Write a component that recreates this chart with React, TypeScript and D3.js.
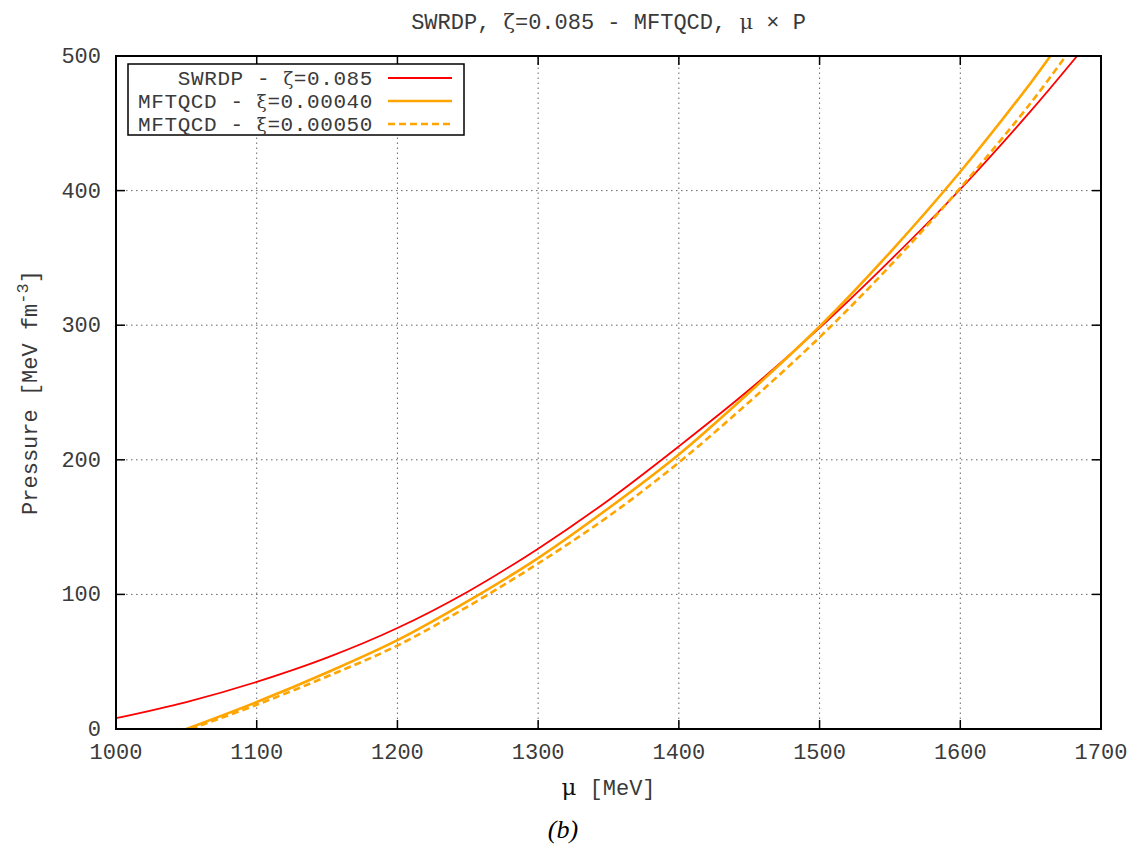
import React from "react";
import * as d3 from "d3";

// SWRDP, zeta = 0.085
const swrdpMu = [1000, 1050, 1100, 1150, 1200, 1250, 1300, 1350, 1400, 1450, 1500, 1550, 1600, 1650, 1683];
const swrdpP = [8, 20, 35, 53, 75, 102, 134, 170, 210, 252, 298, 348, 401, 459, 500];

// MFTQCD, xi = 0.00040
const xi40Mu = [1050, 1100, 1150, 1200, 1250, 1300, 1350, 1400, 1450, 1500, 1550, 1600, 1650, 1664];
const xi40P = [0, 20, 42, 66, 95, 127, 164, 204, 250, 299, 354, 414, 480, 500];

// MFTQCD, xi = 0.00050
const xi50Mu = [1053, 1100, 1150, 1200, 1250, 1300, 1350, 1400, 1450, 1500, 1550, 1600, 1650, 1675];
const xi50P = [0, 18, 39, 62, 91, 123, 158, 198, 243, 291, 344, 402, 465, 500];

const xTicks = [1000, 1100, 1200, 1300, 1400, 1500, 1600, 1700];
const yTicks = [0, 100, 200, 300, 400, 500];

const W = 1136;
const H = 845;
const margin = { left: 116, right: 35, top: 56, bottom: 116 };
const mono = "'Liberation Mono', 'Courier New', monospace";
const serif = "'DejaVu Serif', 'Liberation Serif', serif";
const textCol = "#3a3a3a";

export default function App() {
  const x = d3.scaleLinear().domain([1000, 1700]).range([margin.left, W - margin.right]);
  const y = d3.scaleLinear().domain([0, 500]).range([H - margin.bottom, margin.top]);

  const line = d3
    .line<[number, number]>()
    .x((d) => x(d[0]))
    .y((d) => y(d[1]))
    .curve(d3.curveCatmullRom.alpha(0.5));

  const series = [
    { label: "SWRDP - ", sym: "ζ", val: "=0.085", mu: swrdpMu, p: swrdpP, color: "#ff0000", width: 1.8, dash: "" },
    { label: "MFTQCD - ", sym: "ξ", val: "=0.00040", mu: xi40Mu, p: xi40P, color: "#ffa500", width: 2.6, dash: "" },
    { label: "MFTQCD - ", sym: "ξ", val: "=0.00050", mu: xi50Mu, p: xi50P, color: "#ffa500", width: 2.6, dash: "7,4" },
  ];

  const [x0, x1] = x.range();
  const [y0, y1] = y.range();
  const tick = 9;

  return (
    <svg
      width={W}
      height={H}
      style={{ position: "absolute", left: 0, top: 0, background: "#fff" }}
      fontFamily={mono}
    >
      <defs>
        <clipPath id="plot">
          <rect x={x0} y={y1} width={x1 - x0} height={y0 - y1} />
        </clipPath>
      </defs>

      {/* grid */}
      {xTicks.slice(1, -1).map((t) => (
        <line key={"gx" + t} x1={x(t)} x2={x(t)} y1={y0} y2={y1} stroke="#666" strokeWidth={1} strokeDasharray="1.5,3.5" />
      ))}
      {yTicks.slice(1, -1).map((t) => (
        <line key={"gy" + t} x1={x0} x2={x1} y1={y(t)} y2={y(t)} stroke="#666" strokeWidth={1} strokeDasharray="1.5,3.5" />
      ))}

      {/* curves */}
      <g clipPath="url(#plot)">
        {series.map((s, i) => (
          <path
            key={i}
            d={line(s.mu.map((m, j) => [m, s.p[j]] as [number, number])) || ""}
            fill="none"
            stroke={s.color}
            strokeWidth={s.width}
            strokeDasharray={s.dash || undefined}
          />
        ))}
      </g>

      {/* ticks, mirrored and inward */}
      {xTicks.map((t) => (
        <g key={"tx" + t}>
          <line x1={x(t)} x2={x(t)} y1={y0} y2={y0 - tick} stroke="#000" strokeWidth={1.5} />
          <line x1={x(t)} x2={x(t)} y1={y1} y2={y1 + tick} stroke="#000" strokeWidth={1.5} />
          <text x={x(t)} y={y0 + 30} textAnchor="middle" fontSize={22} fill={textCol}>
            {t}
          </text>
        </g>
      ))}
      {yTicks.map((t) => (
        <g key={"ty" + t}>
          <line x1={x0} x2={x0 + tick} y1={y(t)} y2={y(t)} stroke="#000" strokeWidth={1.5} />
          <line x1={x1} x2={x1 - tick} y1={y(t)} y2={y(t)} stroke="#000" strokeWidth={1.5} />
          <text x={x0 - 15} y={y(t) + 7} textAnchor="end" fontSize={22} fill={textCol}>
            {t}
          </text>
        </g>
      ))}

      {/* frame */}
      <rect x={x0} y={y1} width={x1 - x0} height={y0 - y1} fill="none" stroke="#000" strokeWidth={2} />

      {/* title */}
      <text x={(x0 + x1) / 2} y={29} textAnchor="middle" fontSize={22} fill={textCol}>
        SWRDP, <tspan fontFamily={serif} fontSize={21}>ζ</tspan>=0.085 - MFTQCD, <tspan fontFamily={serif} fontSize={21}>μ</tspan> × P
      </text>

      {/* axis labels */}
      <text x={(x0 + x1) / 2} y={795} textAnchor="middle" fontSize={22} fill={textCol}>
        <tspan fontFamily={serif} fontSize={23} fill="#111">μ</tspan>  [MeV]
      </text>
      <text transform={`translate(37,${(y0 + y1) / 2}) rotate(-90)`} textAnchor="middle" fontSize={22} fill={textCol}>
        Pressure [MeV fm<tspan dy={-9} fontSize={17}>-3</tspan><tspan dy={9}>]</tspan>
      </text>

      {/* caption */}
      <text x={563} y={838} textAnchor="middle" fontSize={26} fontStyle="italic" fontFamily="'Liberation Serif', 'DejaVu Serif', serif" fill="#000">
        (b)
      </text>

      {/* legend */}
      <rect x={128} y={64} width={336} height={71} fill="#fff" stroke="#000" strokeWidth={1.5} />
      {series.map((s, i) => {
        const ry = 78 + i * 23;
        return (
          <g key={"lg" + i}>
            <text x={373} y={ry + 7} textAnchor="end" fontSize={21} letterSpacing={0.6} fill={textCol}>
              {s.label}
              <tspan fontFamily={serif} fontSize={18}>{s.sym}</tspan>
              {s.val}
            </text>
            <line x1={388} x2={452} y1={ry} y2={ry} stroke={s.color} strokeWidth={s.width} strokeDasharray={s.dash || undefined} />
          </g>
        );
      })}
    </svg>
  );
}
